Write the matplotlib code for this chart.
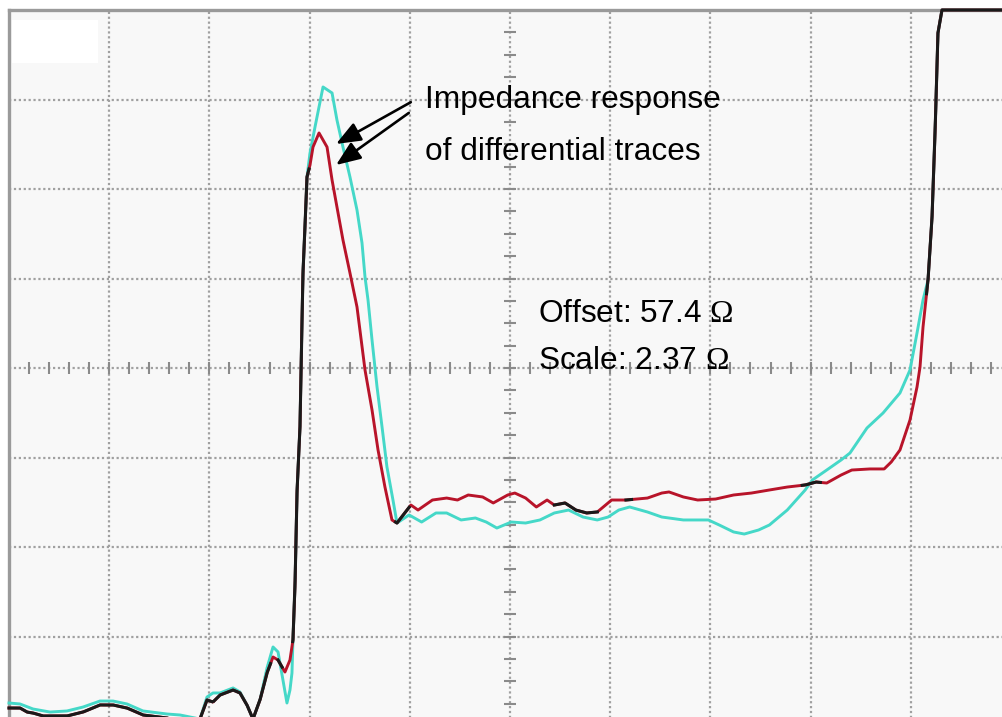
import numpy as np
import matplotlib
matplotlib.use("Agg")
import matplotlib.pyplot as plt
from matplotlib.patches import Rectangle

# ---- data (screen divisions: x 0..10, y 0..8) ----
red_x = [0.000, 0.110, 0.180, 0.240, 0.339, 0.579, 0.739, 0.908, 1.038, 1.178,
         1.337, 1.577, 1.906, 1.976, 2.036, 2.106, 2.236, 2.305, 2.375, 2.435,
         2.505, 2.575, 2.635, 2.685, 2.754, 2.804, 2.834, 2.854, 2.874, 2.904,
         2.924, 2.934, 2.954, 2.974, 3.004, 3.034, 3.094, 3.174, 3.224, 3.273,
         3.333, 3.403, 3.473, 3.553, 3.623, 3.683, 3.752, 3.822, 3.872,
         4.011, 4.082, 4.226, 4.368, 4.476, 4.583, 4.727, 4.833, 4.977, 5.048,
         5.156, 5.263, 5.370, 5.442, 5.549, 5.657, 5.764, 5.871, 6.014, 6.158,
         6.372, 6.515, 6.587, 6.730, 6.873, 7.052, 7.231, 7.410, 7.589, 7.767,
         7.946, 8.054, 8.161, 8.304, 8.411, 8.591, 8.734, 8.805, 8.892, 8.992,
         9.062, 9.092, 9.122, 9.172, 9.212, 9.242, 9.271, 9.311, 10.000]
red_y = [0.201, 0.201, 0.156, 0.145, 0.112, 0.112, 0.156, 0.235, 0.235, 0.201,
         0.123, 0.089, 0.078, 0.291, 0.268, 0.346, 0.402, 0.369, 0.235, 0.078,
         0.291, 0.592, 0.771, 0.737, 0.603, 0.737, 0.961, 1.553, 2.603, 3.341,
         4.536, 5.061, 5.575, 6.134, 6.268, 6.469, 6.626, 6.469, 6.101, 5.799,
         5.430, 5.061, 4.682, 3.978, 3.531, 3.084, 2.670, 2.302, 2.268,
         2.469, 2.413, 2.525, 2.547, 2.525, 2.581, 2.559, 2.492, 2.581, 2.603,
         2.547, 2.447, 2.525, 2.469, 2.492, 2.413, 2.380, 2.391, 2.525, 2.525,
         2.547, 2.603, 2.615, 2.559, 2.525, 2.536, 2.581, 2.603, 2.637, 2.670,
         2.693, 2.726, 2.715, 2.804, 2.860, 2.872, 2.872, 2.950, 3.084, 3.419,
         3.788, 4.011, 4.458, 4.983, 5.687, 6.626, 7.743, 8.000, 8.000]

cyan_x = [0.000, 0.110, 0.240, 0.409, 0.579, 0.739, 0.908, 1.038, 1.178, 1.337,
          1.577, 1.707, 1.906, 1.976, 2.036, 2.106, 2.236, 2.305, 2.375, 2.435,
          2.505, 2.575, 2.635, 2.685, 2.734, 2.774, 2.804, 2.824, 2.834, 2.854,
          2.874, 2.904, 2.924, 2.934, 2.954, 2.974, 3.004, 3.054, 3.134, 3.224,
          3.273, 3.333, 3.403, 3.473, 3.523, 3.553, 3.583, 3.623, 3.673, 3.723,
          3.772, 3.832, 3.872,
          3.993, 4.118, 4.261, 4.368, 4.512, 4.655, 4.763, 4.869, 5.013, 5.156,
          5.299, 5.442, 5.585, 5.729, 5.871, 5.979, 6.086, 6.194, 6.372, 6.515,
          6.730, 6.980, 7.088, 7.231, 7.338, 7.481, 7.589, 7.767, 7.946, 8.018,
          8.161, 8.304, 8.393, 8.563, 8.723, 8.892, 8.992, 9.062, 9.122, 9.172,
          9.212, 9.242, 9.271, 9.311, 10.000]
cyan_y = [0.257, 0.246, 0.190, 0.156, 0.168, 0.212, 0.279, 0.279, 0.246, 0.168,
          0.134, 0.123, 0.078, 0.324, 0.369, 0.369, 0.425, 0.380, 0.235, 0.078,
          0.291, 0.648, 0.883, 0.827, 0.514, 0.257, 0.402, 0.592, 0.961, 1.553,
          2.603, 3.341, 4.536, 5.061, 5.575, 6.134, 6.402, 6.693, 7.140, 7.073,
          6.771, 6.469, 6.134, 5.765, 5.397, 5.017, 4.760, 4.313, 3.788, 3.341,
          2.894, 2.525, 2.268,
          2.358, 2.279, 2.380, 2.380, 2.302, 2.324, 2.279, 2.212, 2.279, 2.268,
          2.302, 2.380, 2.413, 2.335, 2.302, 2.335, 2.413, 2.447, 2.391, 2.335,
          2.302, 2.302, 2.246, 2.168, 2.145, 2.190, 2.246, 2.413, 2.637, 2.749,
          2.860, 2.972, 3.050, 3.330, 3.497, 3.721, 3.978, 4.391, 4.760, 4.983,
          5.687, 6.626, 7.743, 8.000, 8.000]

annot_lines = ["Impedance response", "of differential traces"]
offset_label = "Offset: 57.4 $\\mathrm{\\Omega}$"
scale_label = "Scale: 2.37 $\\mathrm{\\Omega}$"

# ---- style ----
plt.rcParams['font.family'] = ['Liberation Sans', 'DejaVu Sans']
plt.rcParams['mathtext.fontset'] = 'custom'
plt.rcParams['mathtext.rm'] = 'Liberation Serif'
plt.rcParams['mathtext.it'] = 'Liberation Serif:italic'
plt.rcParams['mathtext.bf'] = 'Liberation Serif:bold'

W, H = 1003, 717
fig = plt.figure(figsize=(W / 100, H / 100), dpi=100, facecolor='white')
# plot area: left px 9, right px 1011, top px 10, bottom px 726 (beyond canvas)
ax = fig.add_axes([9 / W, (H - 726) / H, 1002 / W, 716 / H])
ax.set_facecolor('#f8f8f8')
ax.set_xlim(0, 10)
ax.set_ylim(0, 8)

# grid
ax.set_xticks(np.arange(0, 11, 1))
ax.set_yticks(np.arange(0, 9, 1))
ax.tick_params(length=0, labelbottom=False, labelleft=False)
ax.grid(True, color='#a0a0a0', linestyle=(0, (1, 1.2)), linewidth=1.6, zorder=1)
ax.set_axisbelow(True)
for s in ['right', 'bottom']:
    ax.spines[s].set_visible(False)
for s in ['left', 'top']:
    ax.spines[s].set_color('#9a9a9a')
    ax.spines[s].set_linewidth(2.4)

# white patch top-left
ax.add_patch(Rectangle((0.03, 7.41), 0.86, 0.48, facecolor='white',
                       edgecolor='none', zorder=1.5))

# center axis ticks
tx = np.arange(0, 10.001, 0.2)
ax.plot(tx, np.full_like(tx, 4.0), linestyle='none', marker='|', markersize=8,
        markeredgewidth=1.5, color='#8a8a8a', zorder=2)
ty = np.arange(0, 8.001, 0.25)
ax.plot(np.full_like(ty, 5.0), ty, linestyle='none', marker='_', markersize=8,
        markeredgewidth=1.5, color='#8a8a8a', zorder=2)

# traces
lw = 2.1
ax.plot(cyan_x, cyan_y, color='#45d8c8', linewidth=lw, zorder=3,
        solid_joinstyle='round', clip_on=False)
ax.plot(red_x, red_y, color='#b8142a', linewidth=lw, zorder=4,
        solid_joinstyle='round', clip_on=False)
xs = np.linspace(0, 10, 8000)
r = np.interp(xs, red_x, red_y)
c = np.interp(xs, cyan_x, cyan_y)
both = np.where(np.abs(r - c) < 0.09, r, np.nan)
ax.plot(xs, both, color='#1a1a1a', linewidth=lw + 0.1, zorder=5,
        solid_joinstyle='round', clip_on=False)

# annotations
fs = 22.8
ax.text(4.152, 6.905, annot_lines[0], fontsize=fs, color='black', zorder=6)
ax.text(4.152, 6.324, annot_lines[1], fontsize=fs, color='black', zorder=6)
ax.text(5.279, 4.514, offset_label, fontsize=fs, color='black', zorder=6)
ax.text(5.279, 3.989, scale_label, fontsize=fs, color='black', zorder=6)

arrow_style = dict(arrowstyle='-|>,head_length=0.75,head_width=0.3',
                   color='black', lw=1.9, mutation_scale=20,
                   shrinkA=0, shrinkB=0)
ax.annotate('', xy=(3.264, 6.503), xytext=(4.01, 6.97),
            arrowprops=arrow_style, zorder=6)
ax.annotate('', xy=(3.264, 6.268), xytext=(3.99, 6.85),
            arrowprops=arrow_style, zorder=6)

fig.savefig('out.png', dpi=100, facecolor='white')
